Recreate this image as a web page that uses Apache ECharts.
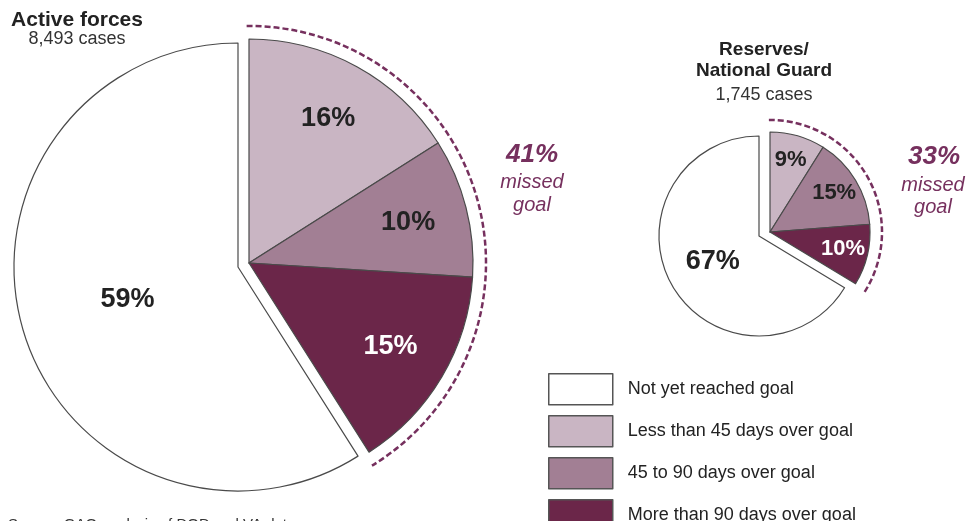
<!DOCTYPE html>
<html>
<head>
<meta charset="utf-8">
<script src="https://cdn.jsdelivr.net/npm/echarts@6/dist/echarts.min.js"></script>
<style>
  html, body { margin: 0; padding: 0; background: #fff; }
  #chart { width: 970px; height: 521px; }
</style>
</head>
<body>
<div id="chart"></div>
<script>
var myChart = echarts.init(document.getElementById('chart'));

// data
var categories = ['Not yet reached goal', 'Less than 45 days over goal', '45 to 90 days over goal', 'More than 90 days over goal'];
var activeValues = [59, 16, 10, 15];
var reserveValues = [67, 9, 15, 10];
var activeTitle = 'Active forces';
var activeCases = '8,493 cases';
var reserveTitle = 'Reserves/\nNational Guard';
var reserveCases = '1,745 cases';
var missedLabels = ['41%', '33%'];
var sourceNote = 'Source: GAO analysis of DOD and VA data.';

var colors = ['#ffffff', '#c9b5c3', '#a27f94', '#6b2649'];
var labelColors = ['#222', '#222', '#222', '#fff'];
var accent = '#76305e';
var font = '"Liberation Sans", Arial, sans-serif';
var hidden = { color: 'rgba(0,0,0,0)', borderWidth: 0 };

function sum(arr) {
	return arr.reduce(function (a, b) { return a + b; }, 0);
}

// white slice + the exploded group of "missed goal" slices
function piePair(vals, cWhite, cMiss, r, bigFont, smallFont) {
	var missed = sum(vals.slice(1));
	var base = {
		type: 'pie', radius: r, startAngle: 90, clockwise: true,
		silent: true, animation: false,
		itemStyle: { borderColor: '#4a4a4a', borderWidth: 1.2 },
		labelLine: { show: false },
		emphasis: { disabled: true }
	};
	var white = echarts.util.merge({
		center: cWhite,
		label: { show: true, position: 'inside', formatter: '{c}%', fontSize: bigFont, fontWeight: 'bold', color: '#222', fontFamily: font },
		data: [
			{ name: 'missed', value: missed, itemStyle: hidden, label: { show: false } },
			{ name: categories[0], value: vals[0], itemStyle: { color: colors[0] } }
		]
	}, base, false);
	var groupData = [];
	var labelData = [];
	for (var i = 1; i < vals.length; i++) {
		groupData.push({ name: categories[i], value: vals[i], itemStyle: { color: colors[i] } });
		labelData.push({ name: categories[i], value: vals[i], itemStyle: hidden, label: { color: labelColors[i] } });
	}
	groupData.push({ name: 'rest', value: vals[0], itemStyle: hidden });
	labelData.push({ name: 'rest', value: vals[0], itemStyle: hidden, label: { show: false } });
	var group = echarts.util.merge({
		center: cMiss,
		label: { show: false },
		data: groupData
	}, base, false);
	var labels = echarts.util.merge({
		center: cMiss,
		radius: [r * 0.44, r],
		itemStyle: hidden,
		label: { show: true, position: 'inside', formatter: '{c}%', fontSize: smallFont, fontWeight: 'bold', fontFamily: font },
		data: labelData
	}, base, false);
	return [white, group, labels];
}

// dashed arc around the missed-goal group
function missArc(vals, c, r) {
	var frac = sum(vals.slice(1)) / sum(vals);
	return {
		type: 'arc', silent: true,
		shape: { cx: c[0], cy: c[1], r: r, startAngle: -Math.PI / 2 - 0.01, endAngle: -Math.PI / 2 + frac * 2 * Math.PI + 0.02, clockwise: true },
		style: { stroke: accent, lineWidth: 2.5, lineDash: [6, 3], fill: null }
	};
}

function txt(x, y, s, f, col, lh, align) {
	return {
		type: 'text', silent: true,
		style: { x: x, y: y, text: s, font: f, fill: col, textAlign: align || 'center', textVerticalAlign: 'middle', lineHeight: lh || 20 }
	};
}

var bigC = [238, 267], bigMiss = [249, 263];
var smallC = [759, 236], smallMiss = [770, 232];

var option = {
	backgroundColor: '#fff',
	legend: {
		orient: 'vertical',
		left: 543, top: 368, height: 200,
		icon: 'rect',
		itemWidth: 64, itemHeight: 31, itemGap: 9.5,
		selectedMode: false,
		textStyle: { fontSize: 18, color: '#222', fontFamily: font, padding: [0, 0, 0, 10] },
		data: categories.map(function (n, i) {
			return { name: n, itemStyle: { color: colors[i], borderColor: '#555', borderWidth: 1.5 } };
		})
	},
	series: piePair(activeValues, bigC, bigMiss, 224, 27, 27)
		.concat(piePair(reserveValues, smallC, smallMiss, 100, 27, 22)),
	graphic: [
		missArc(activeValues, bigMiss, 237),
		missArc(reserveValues, smallMiss, 112),
		txt(77, 20, activeTitle, 'bold 21px ' + font, '#222'),
		txt(77, 39, activeCases, '18px ' + font, '#333'),
		txt(764, 60, reserveTitle, 'bold 19px ' + font, '#222', 21),
		txt(764, 95, reserveCases, '18px ' + font, '#333'),
		txt(532, 155, missedLabels[0], 'italic bold 26px ' + font, accent),
		txt(532, 194, 'missed\ngoal', 'italic 20px ' + font, accent, 23),
		txt(934, 157, missedLabels[1], 'italic bold 26px ' + font, accent),
		txt(933, 196, 'missed\ngoal', 'italic 20px ' + font, accent, 22),
		txt(8, 525, sourceNote, '15px ' + font, '#333', 18, 'left')
	]
};

myChart.setOption(option);
</script>
</body>
</html>
